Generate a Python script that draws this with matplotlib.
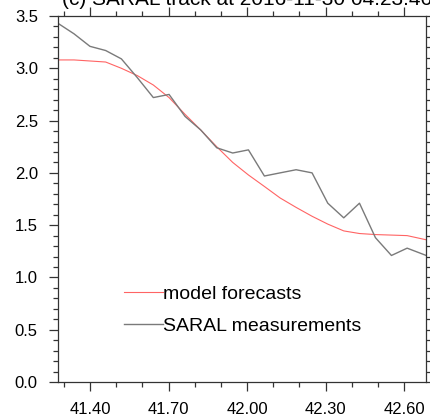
import matplotlib.pyplot as plt
from matplotlib.ticker import MultipleLocator

plt.rcParams['font.family'] = ['Liberation Sans', 'DejaVu Sans']

# latitude along track
lat = [41.278, 41.339, 41.400, 41.460, 41.520, 41.581, 41.642, 41.702,
       41.763, 41.823, 41.884, 41.945, 42.005, 42.066, 42.126, 42.187,
       42.248, 42.308, 42.369, 42.429, 42.490, 42.551, 42.611, 42.684]

# significant wave height (m)
model = [3.08, 3.08, 3.07, 3.06, 3.00, 2.93, 2.84, 2.72,
         2.56, 2.41, 2.25, 2.10, 1.98, 1.87, 1.76, 1.67,
         1.585, 1.51, 1.445, 1.42, 1.41, 1.405, 1.40, 1.36]
saral = [3.43, 3.33, 3.21, 3.17, 3.09, 2.91, 2.72, 2.75,
         2.54, 2.41, 2.24, 2.19, 2.22, 1.97, 2.00, 2.03,
         2.00, 1.71, 1.57, 1.71, 1.38, 1.21, 1.28, 1.21]

xticks = [41.40, 41.70, 42.00, 42.30, 42.60]
title = "(c) SARAL track at 2016-11-30 04:23:46"

fig = plt.figure(figsize=(4.31, 4.16), dpi=100)
ax = fig.add_axes([0.1346, 0.0817, 0.8538, 0.8798])

ax.plot(lat, model, color='#ff6464', lw=0.8, label='model forecasts')
ax.plot(lat, saral, color='#7a7a7a', lw=1.0, label='SARAL measurements')

ax.set_xlim(41.278, 42.683)
ax.set_ylim(0, 3.5)
ax.set_xticks(xticks)
ax.set_xticklabels(['%.2f' % t for t in xticks])
ax.xaxis.set_minor_locator(MultipleLocator(0.1))
ax.set_yticks([0, 0.5, 1.0, 1.5, 2.0, 2.5, 3.0, 3.5])
ax.set_yticklabels(['%.1f' % t for t in ax.get_yticks()])
ax.yaxis.set_minor_locator(MultipleLocator(0.1))

ax.tick_params(which='both', direction='out', top=True, right=True,
               color='#333333', width=0.9, labelsize=12, pad=8)
ax.tick_params(which='major', length=6.5)
ax.tick_params(which='minor', length=3.5)
for s in ax.spines.values():
    s.set_linewidth(0.9)
    s.set_color('#333333')

ax.legend(loc='upper left', bbox_to_anchor=(0.18, 0.264), frameon=False,
          fontsize=14, handlelength=2.0, handletextpad=0.0, labelspacing=0.72,
          borderpad=0, borderaxespad=0)

# title is cropped at the top edge in the original figure
fig.text(0.145, 0.988, title, fontsize=15, va='baseline', ha='left')

fig.savefig('out.png', dpi=100)
